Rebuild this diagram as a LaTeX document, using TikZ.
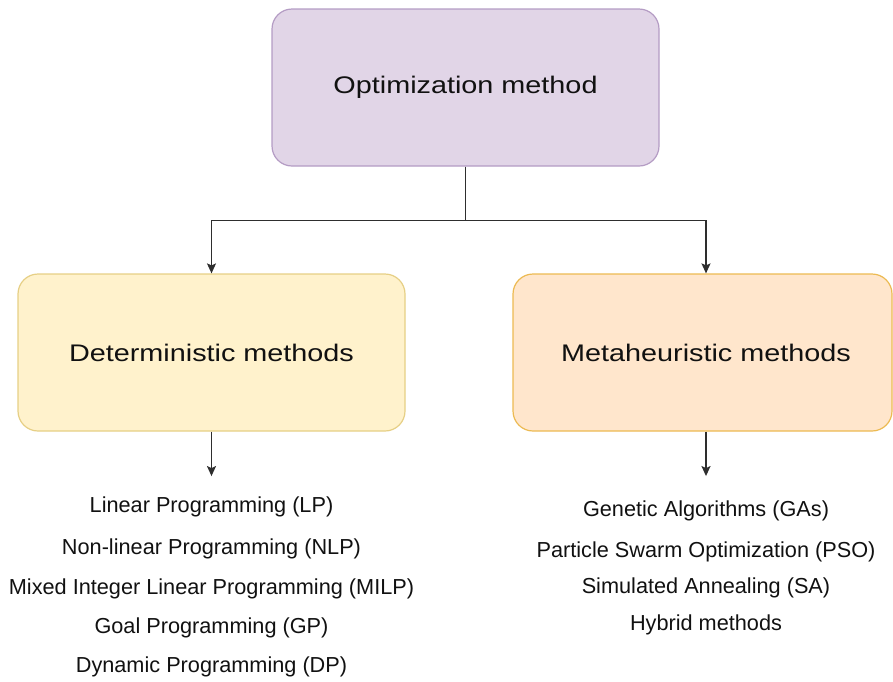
\documentclass[tikz,border=0pt]{standalone}
\usepackage{fontspec}
\setmainfont{Liberation Sans}
\newfontfamily\boxfont[FakeStretch=1.2]{Liberation Sans}
\usetikzlibrary{arrows.meta}

\definecolor{topfill}{HTML}{E1D5E7}
\definecolor{topline}{HTML}{B49CC4}
\definecolor{detfill}{HTML}{FFF2CC}
\definecolor{detline}{HTML}{E6CF85}
\definecolor{metfill}{HTML}{FFE6CC}
\definecolor{metline}{HTML}{ECBA52}
\definecolor{wire}{HTML}{2E2E2E}
\definecolor{ink}{HTML}{111111}

\tikzset{
  catbox/.style={draw, rounded corners=20pt, line width=1.2pt, inner sep=0pt,
    font=\boxfont\fontsize{24}{29}\selectfont, text=ink},
  item/.style={font=\fontsize{21.7}{26}\selectfont, text=ink, anchor=base, inner sep=0pt},
  link/.style={draw=wire, line width=1.5pt},
  arrowlink/.style={link, -{Stealth[length=10pt,width=9pt,inset=2pt]}},
}

\begin{document}
\begin{tikzpicture}[x=1pt,y=-1pt]
\useasboundingbox (0,0) rectangle (893,681);

% category boxes
\node[catbox, fill=topfill, draw=topline, minimum width=387pt, minimum height=157pt]
  (top) at (465.5,87.5) {Optimization method};
\node[catbox, fill=detfill, draw=detline, minimum width=387pt, minimum height=157pt]
  (det) at (211.5,352.5) {Deterministic methods};
\node[catbox, fill=metfill, draw=metline, minimum width=379pt, minimum height=157pt]
  (met) at (702.5,352.5) {\hspace*{7pt}Metaheuristic methods};

% deterministic methods
\node[item] (lp)   at (211.5,512) {Linear Programming (LP)};
\node[item] (nlp)  at (211.5,554) {Non-linear Programming (NLP)};
\node[item] (milp) at (211.5,594) {Mixed Integer Linear Programming (MILP)};
\node[item] (gp)   at (211.5,633) {Goal Programming (GP)};
\node[item] (dp)   at (211.5,672) {Dynamic Programming (DP)};

% metaheuristic methods
\node[item] (ga)  at (706,516) {Genetic Algorithms (GAs)};
\node[item] (pso) at (706,557) {Particle Swarm Optimization (PSO)};
\node[item] (sa)  at (706,593) {Simulated Annealing (SA)};
\node[item] (hyb) at (706,630) {Hybrid methods};

% connectors
\draw[arrowlink] (top.south) -- ++(0,54) -| (det.north);
\draw[arrowlink] (top.south) -- ++(0,54) -| ([xshift=3.5pt]met.north);
\draw[arrowlink, shorten >=20pt] (det.south) -- (det.south |- lp.north);
\draw[arrowlink, shorten >=24pt] ([xshift=3.5pt]met.south) -- ([xshift=3.5pt]met.south |- ga.north);
\end{tikzpicture}
\end{document}
